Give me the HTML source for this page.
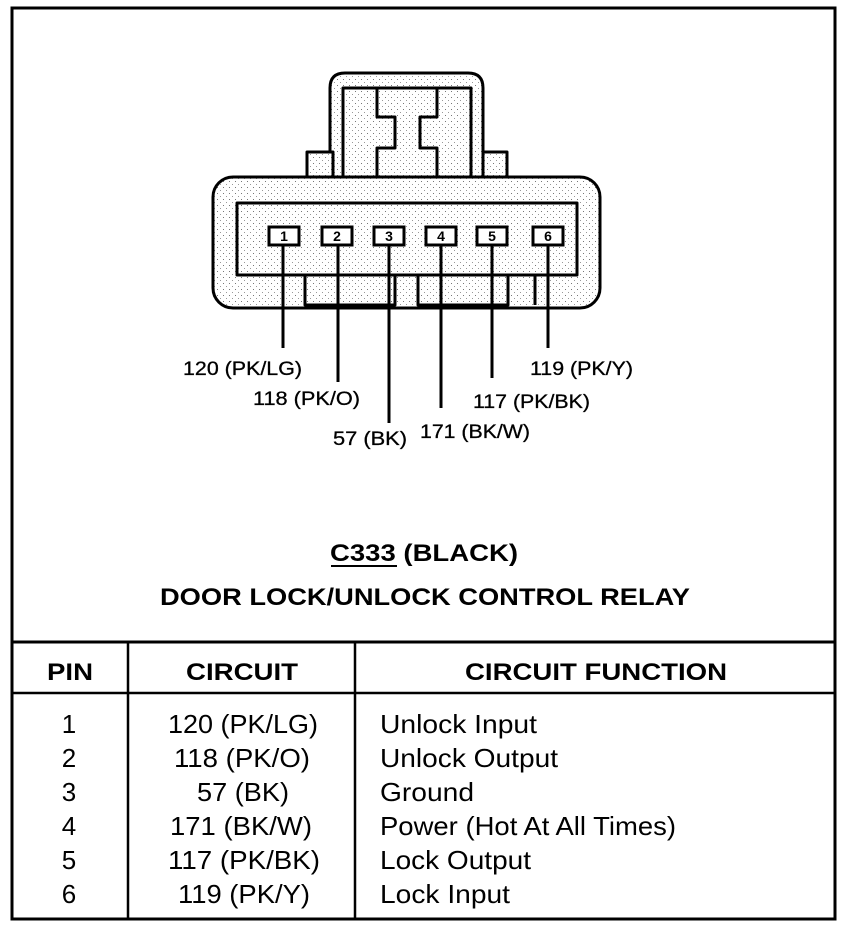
<!DOCTYPE html>
<html><head><meta charset="utf-8"><style>
html,body{margin:0;padding:0;background:#fff;}
svg{display:block;}
text{font-family:"Liberation Sans",Arial,sans-serif;fill:#000;}
</style></head><body>
<svg width="864" height="928" viewBox="0 0 864 928" xmlns="http://www.w3.org/2000/svg">
<defs>
<pattern id="dots" width="6" height="6" patternUnits="userSpaceOnUse">
<rect width="6" height="6" fill="#fff"/>
<rect x="1" y="1" width="1" height="1" fill="#777"/>
<rect x="4" y="4" width="1" height="1" fill="#999"/>
</pattern>
</defs>
<rect x="12" y="8" width="823" height="911" fill="none" stroke="#000" stroke-width="3"/>
<line x1="12" y1="642" x2="835" y2="642" stroke="#000" stroke-width="3"/>
<line x1="12" y1="693" x2="835" y2="693" stroke="#000" stroke-width="2.5"/>
<line x1="128" y1="642" x2="128" y2="919" stroke="#000" stroke-width="2.5"/>
<line x1="355" y1="642" x2="355" y2="919" stroke="#000" stroke-width="2.5"/>

<g stroke="#000" stroke-width="3" stroke-linejoin="round">
<path d="M330,177 V88 Q330,73 345,73 H468 Q483,73 483,88 V177 Z" fill="url(#dots)"/>
<rect x="307" y="152" width="26" height="25" fill="url(#dots)"/>
<rect x="483" y="152" width="24" height="25" fill="url(#dots)"/>
<rect x="213" y="177" width="387" height="131" rx="20" fill="url(#dots)"/>
<path d="M343,177 V88 H471 V177" fill="none"/>
<path d="M377,88 V117 H395 V148 H377 V177 M437,88 V117 H420 V148 H437 V177" fill="none"/>
<rect x="237" y="203" width="340" height="72" fill="url(#dots)"/>
<path d="M305,275 V305 H395 V275 M418,275 V305 H508 V275 M535,275 V305" fill="none"/>
</g>
<g stroke="#000" stroke-width="3" fill="#fff">
<rect x="269" y="227" width="30" height="18"/>
<rect x="322" y="227" width="30" height="18"/>
<rect x="374" y="227" width="30" height="18"/>
<rect x="426" y="227" width="30" height="18"/>
<rect x="477" y="227" width="30" height="18"/>
<rect x="533" y="227" width="30" height="18"/>
</g>
<g font-size="14" font-weight="bold" text-anchor="middle">
<text x="284" y="241">1</text><text x="337" y="241">2</text><text x="389" y="241">3</text>
<text x="441" y="241">4</text><text x="492" y="241">5</text><text x="548" y="241">6</text>
</g>
<g stroke="#000" stroke-width="3">
<line x1="283" y1="245" x2="283" y2="348"/>
<line x1="338" y1="245" x2="338" y2="382"/>
<line x1="389" y1="245" x2="389" y2="423"/>
<line x1="441" y1="245" x2="441" y2="408"/>
<line x1="492" y1="245" x2="492" y2="378"/>
<line x1="548" y1="245" x2="548" y2="348"/>
</g>
<g font-size="19" stroke="#000" stroke-width="0.3">
<text x="183" y="375" textLength="119" lengthAdjust="spacingAndGlyphs">120 (PK/LG)</text>
<text x="253" y="405" textLength="107" lengthAdjust="spacingAndGlyphs">118 (PK/O)</text>
<text x="333" y="445" textLength="74" lengthAdjust="spacingAndGlyphs">57 (BK)</text>
<text x="420" y="438" textLength="110" lengthAdjust="spacingAndGlyphs">171 (BK/W)</text>
<text x="473" y="408" textLength="117" lengthAdjust="spacingAndGlyphs">117 (PK/BK)</text>
<text x="530" y="375" textLength="103" lengthAdjust="spacingAndGlyphs">119 (PK/Y)</text>
</g>

<g font-size="24" font-weight="bold">
<text x="330" y="561" textLength="188" lengthAdjust="spacingAndGlyphs">C333 (BLACK)</text>
<line x1="331" y1="566" x2="397" y2="566" stroke="#000" stroke-width="2"/>
<text x="160" y="605" textLength="530" lengthAdjust="spacingAndGlyphs">DOOR LOCK/UNLOCK CONTROL RELAY</text>
<text x="47" y="680" textLength="46" lengthAdjust="spacingAndGlyphs">PIN</text>
<text x="186" y="680" textLength="112" lengthAdjust="spacingAndGlyphs">CIRCUIT</text>
<text x="465" y="680" textLength="262" lengthAdjust="spacingAndGlyphs">CIRCUIT FUNCTION</text>
</g>

<g font-size="26">
<g text-anchor="middle">
<text x="69" y="733">1</text><text x="69" y="767">2</text><text x="69" y="801">3</text>
<text x="69" y="835">4</text><text x="69" y="869">5</text><text x="69" y="903">6</text>
</g>
<text x="168" y="733" textLength="150" lengthAdjust="spacingAndGlyphs">120 (PK/LG)</text>
<text x="174" y="767" textLength="136" lengthAdjust="spacingAndGlyphs">118 (PK/O)</text>
<text x="197" y="801" textLength="92" lengthAdjust="spacingAndGlyphs">57 (BK)</text>
<text x="170" y="835" textLength="142" lengthAdjust="spacingAndGlyphs">171 (BK/W)</text>
<text x="168" y="869" textLength="152" lengthAdjust="spacingAndGlyphs">117 (PK/BK)</text>
<text x="178" y="903" textLength="132" lengthAdjust="spacingAndGlyphs">119 (PK/Y)</text>
<text x="380" y="733" textLength="157" lengthAdjust="spacingAndGlyphs">Unlock Input</text>
<text x="380" y="767" textLength="178" lengthAdjust="spacingAndGlyphs">Unlock Output</text>
<text x="380" y="801" textLength="94" lengthAdjust="spacingAndGlyphs">Ground</text>
<text x="380" y="835" textLength="296" lengthAdjust="spacingAndGlyphs">Power (Hot At All Times)</text>
<text x="380" y="869" textLength="151" lengthAdjust="spacingAndGlyphs">Lock Output</text>
<text x="380" y="903" textLength="130" lengthAdjust="spacingAndGlyphs">Lock Input</text>
</g>
</svg>
</body></html>
